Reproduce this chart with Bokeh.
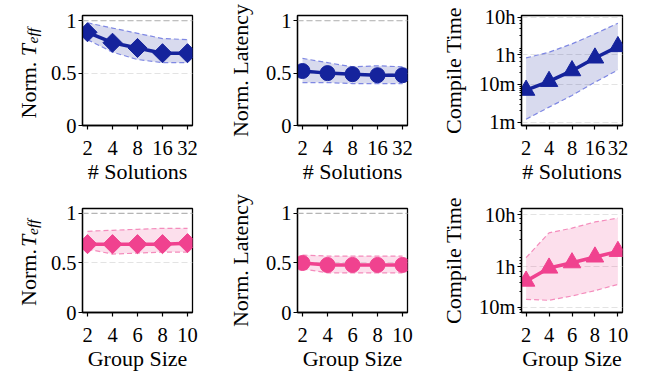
import math
from bokeh.plotting import figure
from bokeh.layouts import column, row
from bokeh.models import FixedTicker, Span, Label, Range1d
from bokeh.embed import file_html
from bokeh.resources import INLINE

# ---------------- data ----------------
solutions = [2, 4, 8, 16, 32]
group_sizes = [2, 4, 6, 8, 10]

sol_teff_mean = [0.89, 0.79, 0.74, 0.69, 0.69]
sol_teff_hi = [0.98, 0.93, 0.88, 0.83, 0.82]
sol_teff_lo = [0.82, 0.70, 0.63, 0.60, 0.60]

sol_lat_mean = [0.52, 0.50, 0.49, 0.48, 0.48]
sol_lat_hi = [0.64, 0.60, 0.56, 0.57, 0.56]
sol_lat_lo = [0.41, 0.41, 0.40, 0.40, 0.40]

sol_time_mean = [7, 12, 23, 50, 100]        # minutes
sol_time_hi = [50, 71, 118, 217, 416]
sol_time_lo = [1.2, 2.5, 5.1, 11.4, 24]

grp_teff_mean = [0.69, 0.69, 0.69, 0.69, 0.70]
grp_teff_hi = [0.82, 0.83, 0.84, 0.85, 0.85]
grp_teff_lo = [0.64, 0.59, 0.60, 0.61, 0.61]

grp_lat_mean = [0.50, 0.48, 0.48, 0.48, 0.48]
grp_lat_hi = [0.58, 0.57, 0.57, 0.57, 0.57]
grp_lat_lo = [0.44, 0.40, 0.40, 0.40, 0.40]

grp_time_mean = [32, 57, 72, 93, 119]       # minutes
grp_time_hi = [90, 270, 332, 436, 516]
grp_time_lo = [14.3, 13.7, 16.6, 21, 27.7]

norm_ticks = [0, 0.5, 1]
norm_labels = {0: "0", 0.5: "0.5", 1: "1"}
time_ticks = [1, 10, 60, 600]
time_labels = {1: "1m", 10: "10m", 60: "1h", 600: "10h"}
time_minor = [2, 3, 4, 5, 6, 7, 8, 9, 20, 30, 40, 50, 70, 80, 90, 200, 300, 400, 500, 700]

BLUE = "#15239c"
BLUE_EDGE = "#7f88e3"
PINK = "#f0428f"
PINK_EDGE = "#f48cbc"
FONT = "Liberation Serif"

FRAME_W = 110
FRAME_H = 110


def make_fig(left, right, top, bottom, xlog, ylog, xr, yr):
    p = figure(width=left + FRAME_W + right, height=top + FRAME_H + bottom,
               output_backend="svg", toolbar_location=None,
               x_axis_type="log" if xlog else "linear",
               y_axis_type="log" if ylog else "linear",
               x_range=Range1d(*xr), y_range=Range1d(*yr),
               min_border_left=left, min_border_right=right,
               min_border_top=top, min_border_bottom=bottom)
    p.background_fill_color = "white"
    p.border_fill_color = "white"
    p.outline_line_color = "black"
    p.outline_line_width = 1.3
    p.outline_line_alpha = 1.0
    p.xgrid.visible = False
    p.ygrid.grid_line_color = "#e3e3e3"
    p.ygrid.grid_line_dash = "6 3"
    p.ygrid.grid_line_width = 1.2
    for ax in (p.xaxis, p.yaxis):
        ax.axis_line_color = "black"
        ax.axis_line_width = 1.3
        ax.major_tick_line_width = 1.2
        ax.major_tick_in = 0
        ax.major_tick_out = 4
        ax.minor_tick_in = 0
        ax.minor_tick_out = 2
        ax.minor_tick_line_width = 1.0
        ax.major_label_text_font = FONT
        ax.major_label_text_font_size = "20.5px"
        ax.major_label_text_color = "black"
        ax.axis_label_text_font = FONT
        ax.axis_label_text_font_size = "22px"
        ax.axis_label_text_font_style = "normal"
        ax.axis_label_text_color = "black"
    p.xaxis.major_label_standoff = 11
    p.yaxis.major_label_standoff = 2
    p.xaxis.axis_label_standoff = 1
    p.yaxis.axis_label_standoff = 10
    return p


def draw(p, xs, mean, lo, hi, color, edge, marker, size, angle=0.0):
    p.varea(x=xs, y1=lo, y2=hi, fill_color=color, fill_alpha=0.17)
    p.line(xs, hi, line_color=edge, line_width=1.2, line_dash="5 3")
    p.line(xs, lo, line_color=edge, line_width=1.2, line_dash="5 3")
    p.line(xs, mean, line_color=color, line_width=3.5)
    p.scatter(xs, mean, marker=marker, size=size, angle=angle,
              fill_color=color, line_color=color)


def norm_axis(p):
    p.yaxis.ticker = FixedTicker(ticks=norm_ticks)
    p.yaxis.major_label_overrides = norm_labels
    p.add_layout(Span(location=1, dimension="width", line_color="#b5b5b5",
                      line_dash="6 3", line_width=1.2))


def time_axis(p):
    p.yaxis.ticker = FixedTicker(ticks=time_ticks, minor_ticks=time_minor)
    p.yaxis.major_label_overrides = time_labels
    p.yaxis.axis_label = "Compile Time"


def teff_label_fig(width, top, bottom):
    """Narrow figure whose frame matches the neighbour's frame rows; carries 'Norm. T_eff'."""
    f = figure(width=width, height=top + FRAME_H + bottom, output_backend="svg",
               toolbar_location=None,
               x_range=Range1d(0, width), y_range=Range1d(0, FRAME_H),
               x_axis_location=None, y_axis_location=None,
               min_border_left=0, min_border_right=0,
               min_border_top=top, min_border_bottom=bottom)
    f.outline_line_color = None
    f.background_fill_color = "white"
    f.border_fill_color = "white"
    f.grid.visible = False
    common = dict(angle=math.pi / 2, text_font=FONT, text_color="black",
                  text_align="left", text_baseline="alphabetic")
    y0 = 7
    xb = 28
    f.add_layout(Label(text="Norm. ", x=xb, y=y0, text_font_size="22px", **common))
    f.add_layout(Label(text="T", x=xb, y=y0 + 62.3, text_font_size="22px",
                       text_font_style="italic", **common))
    f.add_layout(Label(text="eff", x=xb + 4, y=y0 + 62.3 + 12.8, text_font_size="15.5px",
                       text_font_style="italic", **common))
    return f


sol_xr = (2 ** 0.8, 2 ** 5.2)
grp_xr = (1.6, 10.4)
sol_labels = {v: str(v) for v in solutions}

TOP1, BOT1 = 15, 65
TOP2, BOT2 = 18, 55
LAB_W = 45

# ---------- row 1 ----------
l1 = teff_label_fig(LAB_W, TOP1, BOT1)
p1 = make_fig(82 - LAB_W, 31, TOP1, BOT1, True, False, sol_xr, (0, 1.05))
p2 = make_fig(74, 31, TOP1, BOT1, True, False, sol_xr, (0, 1.05))
p3 = make_fig(74, 20, TOP1, BOT1, True, True, sol_xr, (0.816, 664))
for p in (p1, p2, p3):
    p.xaxis.ticker = FixedTicker(ticks=solutions)
    p.xaxis.major_label_overrides = sol_labels
    p.xaxis.axis_label = "# Solutions"
norm_axis(p1)
norm_axis(p2)
time_axis(p3)
p2.yaxis.axis_label = "Norm. Latency"
draw(p1, solutions, sol_teff_mean, sol_teff_lo, sol_teff_hi, BLUE, BLUE_EDGE, "square", 13.5, math.pi / 4)
draw(p2, solutions, sol_lat_mean, sol_lat_lo, sol_lat_hi, BLUE, BLUE_EDGE, "circle", 15)
draw(p3, solutions, sol_time_mean, sol_time_lo, sol_time_hi, BLUE, BLUE_EDGE, "triangle", 17.5)

# ---------- row 2 ----------
l2 = teff_label_fig(LAB_W, TOP2, BOT2)
p4 = make_fig(82 - LAB_W, 31, TOP2, BOT2, False, False, grp_xr, (0, 1.05))
p5 = make_fig(74, 31, TOP2, BOT2, False, False, grp_xr, (0, 1.05))
p6 = make_fig(74, 20, TOP2, BOT2, False, True, grp_xr, (8.0, 790))
for p in (p4, p5, p6):
    p.xaxis.ticker = FixedTicker(ticks=group_sizes)
    p.xaxis.axis_label = "Group Size"
norm_axis(p4)
norm_axis(p5)
time_axis(p6)
p5.yaxis.axis_label = "Norm. Latency"
draw(p4, group_sizes, grp_teff_mean, grp_teff_lo, grp_teff_hi, PINK, PINK_EDGE, "square", 13.5, math.pi / 4)
draw(p5, group_sizes, grp_lat_mean, grp_lat_lo, grp_lat_hi, PINK, PINK_EDGE, "circle", 15)
draw(p6, group_sizes, grp_time_mean, grp_time_lo, grp_time_hi, PINK, PINK_EDGE, "triangle", 17.5)

layout = column(row(l1, p1, p2, p3), row(l2, p4, p5, p6))
open("out.html", "w").write(file_html(layout, INLINE))
